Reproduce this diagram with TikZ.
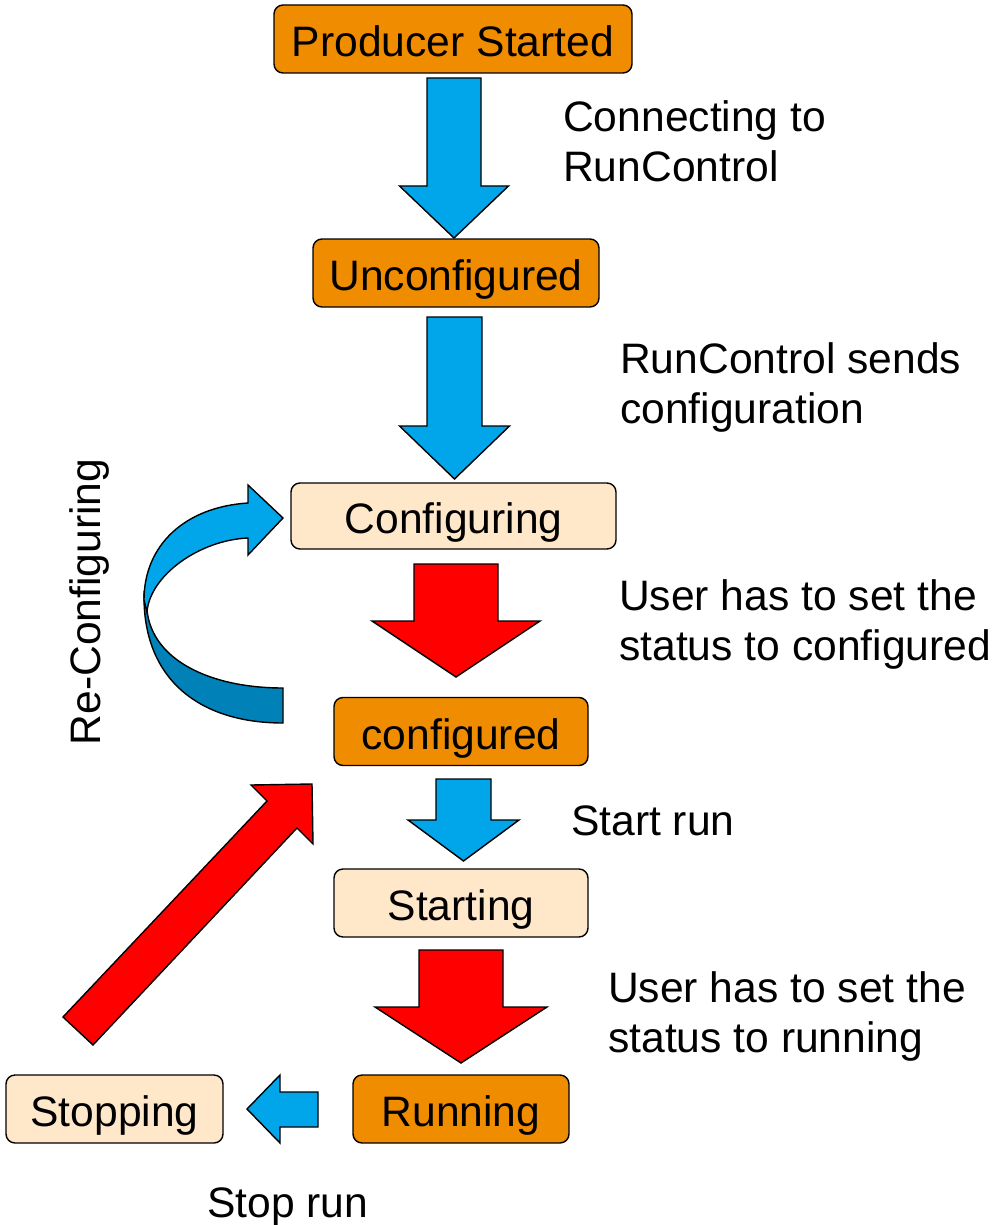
\documentclass[tikz,border=0pt]{standalone}
\usepackage{fontspec}
\setmainfont{Liberation Sans}
\definecolor{boxorange}{RGB}{240,140,0}
\definecolor{boxcream}{RGB}{255,231,201}
\definecolor{arrowblue}{RGB}{0,166,233}
\definecolor{arrowdark}{RGB}{0,130,185}
\definecolor{arrowred}{RGB}{255,0,0}

% vertical block arrow: centre x, top y, neck y, tip y, shaft half width, head half width, fill
\newcommand\vblockarrow[7]{%
  \filldraw[blockarrow, fill=#7]
    (#1-#5,#2) -- (#1+#5,#2) -- (#1+#5,#3) -- (#1+#6,#3) -- (#1,#4)
    -- (#1-#6,#3) -- (#1-#5,#3) -- cycle;}

\tikzset{
  statebox/.style={draw=black, line width=1.4pt, rounded corners=9pt,
    inner sep=0pt, text height=35pt, text depth=0pt,
    font=\fontsize{42.6}{50}\selectfont},
  donestate/.style={statebox, fill=boxorange},
  busystate/.style={statebox, fill=boxcream},
  blockarrow/.style={draw=black, line width=1.4pt, line join=miter},
  lbl/.style={inner sep=0pt, anchor=base west, align=left,
    font=\fontsize{42.6}{50}\selectfont},
}

\begin{document}
\begin{tikzpicture}[x=1pt, y=-1pt]
\useasboundingbox (0,0) rectangle (994,1225);

% states
\node[donestate, minimum width=358, minimum height=68] (started) at (453,39) {Producer Started};
\node[donestate, minimum width=286, minimum height=68] (unconf) at (456,273) {Unconfigured};
\node[busystate, minimum width=325, minimum height=66] (configuring) at (453.5,516) {Configuring};
\node[donestate, minimum width=254, minimum height=68] (configured) at (461,731.5) {configured};
\node[busystate, minimum width=254, minimum height=68] (starting) at (461,903) {Starting};
\node[donestate, minimum width=216, minimum height=68] (running) at (461,1109) {Running};
\node[busystate, minimum width=217, minimum height=68] (stopping) at (114.5,1109) {Stopping};

% transitions
\vblockarrow{454}{78}{186}{238}{27}{54.5}{arrowblue}
\vblockarrow{454.5}{317}{426}{479}{27.5}{55}{arrowblue}
\vblockarrow{456}{564}{621}{677}{42}{84}{arrowred}
\vblockarrow{463.5}{779}{820}{861}{27.5}{55.5}{arrowblue}
\vblockarrow{461}{950}{1007}{1063}{42}{86}{arrowred}

% stop run: pointing left
\filldraw[blockarrow, fill=arrowblue]
  (318,1092) -- (318,1127) -- (280,1127) -- (280,1143) -- (247,1109)
  -- (280,1075) -- (280,1092) -- cycle;

% back to configured
\filldraw[blockarrow, fill=arrowred]
  (63,1017) -- (267,801) -- (251,785) -- (312,784) -- (313,844)
  -- (297,828) -- (93,1045) -- cycle;

% re-configuring loop: lower (back) band first, then the front band with the head
\filldraw[blockarrow, fill=arrowdark]
  (144,597) .. controls (144,680) and (200,723) .. (283,723)
  -- (283,688) .. controls (210,688) and (152,660) .. (147,610) -- cycle;
\filldraw[blockarrow, fill=arrowblue]
  (147,612) -- (144,600) .. controls (144,545) and (185,507) .. (248,503)
  -- (248,485) -- (283,518) -- (248,555) -- (248,538)
  .. controls (200,540) and (150,575) .. (147,612) -- cycle;

% labels (multi-line labels sit on the baseline of their last line)
\node[lbl] (l1) at (563,182) {Connecting to\\RunControl};
\node[lbl] (l2) at (620,423) {RunControl sends\\configuration};
\node[lbl] (l3) at (619,660) {User has to set the\\status to configured};
\node[lbl] (l4) at (571,835) {Start run};
\node[lbl] (l5) at (608,1052) {User has to set the\\status to running};
\node[lbl] (l6) at (207,1217) {Stop run};
\node[inner sep=0pt, rotate=90, anchor=base, font=\fontsize{42.6}{50}\selectfont] (l7) at (100,602) {Re-Configuring};
\end{tikzpicture}
\end{document}
